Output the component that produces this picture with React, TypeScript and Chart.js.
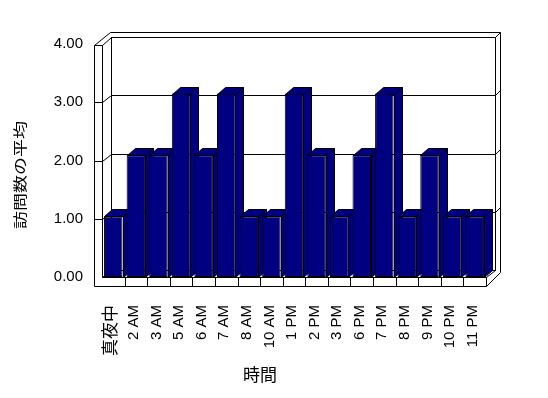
import React, { useEffect, useRef } from "react";
import { Chart, registerables } from "chart.js";

Chart.register(...registerables);

const categories = ["真夜中", "2 AM", "3 AM", "5 AM", "6 AM", "7 AM", "8 AM", "10 AM", "1 PM", "2 PM", "3 PM", "6 PM", "7 PM", "8 PM", "9 PM", "10 PM", "11 PM"];
const averageVisits = [1.04, 2.09, 2.09, 3.15, 2.09, 3.15, 1.04, 1.04, 3.15, 2.09, 1.04, 2.09, 3.15, 1.04, 2.09, 1.04, 1.04];
const yTicks = [0, 1, 2, 3, 4];
const xTitle = "時間";
const yTitle = "訪問数の平均";

const BAR_COLOR = "#000080";
const LATIN = '"Liberation Sans", Arial, "Noto Sans CJK JP", sans-serif';
const CJK = '"Noto Sans CJK JP", sans-serif';

const WALL_DX = 9;
const WALL_DY = -7;
const BAR_DX = 8;
const BAR_DY = -7;

const box3d = {
  id: "box3d",
  beforeDatasetsDraw(chart: any) {
    const ctx = chart.ctx;
    const { left: x0, right: x1 } = chart.chartArea;
    const ys = chart.scales.y;
    const xs = chart.scales.x;
    const yMin = yTicks[0];
    const yMax = yTicks[yTicks.length - 1];
    const yb = Math.round(ys.getPixelForValue(yMin));
    const yt = Math.round(ys.getPixelForValue(yMax));
    const L = Math.round(x0);
    const R = Math.round(x1);
    const P = (v: number) => Math.round(v) + 0.5;
    const line = (a: number, b: number, c: number, d: number) => {
      ctx.beginPath();
      ctx.moveTo(P(a), P(b));
      ctx.lineTo(P(c), P(d));
      ctx.stroke();
    };
    ctx.save();
    ctx.lineWidth = 1;
    ctx.strokeStyle = "#000";
    ctx.fillStyle = "#fff";
    // outer slab outline
    ctx.beginPath();
    ctx.moveTo(P(L - 8), P(yt + 1));
    ctx.lineTo(P(L + 8), P(yt - 12));
    ctx.lineTo(P(R + 14), P(yt - 12));
    ctx.lineTo(P(R + 14), P(yb - 5));
    ctx.lineTo(P(R), P(yb + 9));
    ctx.lineTo(P(L - 8), P(yb + 9));
    ctx.closePath();
    ctx.fill();
    ctx.stroke();
    // back wall
    ctx.strokeRect(P(L + WALL_DX), P(yt + WALL_DY), R - L, yb - yt);
    // left wall inner edge
    line(L, yt + 1, L, yb);
    line(L - 8, yt + 1, L, yt + 1);
    line(L, yt + 1, L + WALL_DX, yt + WALL_DY);
    // top right corner
    line(R + WALL_DX, yt + WALL_DY, R + 14, yt - 12);
    // floor
    line(L, yb, R, yb);
    line(R, yb, R, yb + 9);
    line(R, yb, R + WALL_DX, yb + WALL_DY);
    line(L, yb, L + WALL_DX, yb + WALL_DY);
    // gridlines
    for (const v of yTicks) {
      if (v === yMin || v === yMax) continue;
      const y = Math.round(ys.getPixelForValue(v));
      line(L - 8, y, L, y);
      line(L, y, L + WALL_DX, y + WALL_DY);
      line(L + WALL_DX, y + WALL_DY, R + WALL_DX, y + WALL_DY);
      line(R + WALL_DX, y + WALL_DY, R + 14, y - 12);
    }
    // floor category dividers
    for (let k = 1; k < categories.length; k++) {
      const bx = (xs.getPixelForValue(k - 1) + xs.getPixelForValue(k)) / 2;
      line(bx, yb, bx, yb + 9);
    }
    // bar side and top faces
    const meta = chart.getDatasetMeta(0);
    ctx.fillStyle = BAR_COLOR;
    meta.data.forEach((bar: any) => {
      const { x, y, base, width } = bar.getProps(["x", "y", "base", "width"], true);
      const l = Math.round(x - width / 2);
      const r = Math.round(x + width / 2);
      const t = Math.round(y);
      const b = Math.round(base);
      ctx.beginPath();
      ctx.moveTo(P(r), P(t));
      ctx.lineTo(P(r + BAR_DX), P(t + BAR_DY));
      ctx.lineTo(P(r + BAR_DX), P(b + BAR_DY));
      ctx.lineTo(P(r), P(b));
      ctx.closePath();
      ctx.fill();
      ctx.stroke();
      ctx.beginPath();
      ctx.moveTo(P(l), P(t));
      ctx.lineTo(P(l + BAR_DX), P(t + BAR_DY));
      ctx.lineTo(P(r + BAR_DX), P(t + BAR_DY));
      ctx.lineTo(P(r), P(t));
      ctx.closePath();
      ctx.fill();
      ctx.stroke();
    });
    ctx.restore();
  },
  afterDraw(chart: any) {
    const ctx = chart.ctx;
    ctx.save();
    ctx.fillStyle = "#000";
    ctx.font = `17px ${CJK}`;
    ctx.textAlign = "center";
    ctx.textBaseline = "middle";
    ctx.fillText(xTitle, 260, 375);
    ctx.translate(20, 175);
    ctx.rotate(-Math.PI / 2);
    ctx.scale(1, 0.78);
    ctx.font = `18px ${CJK}`;
    ctx.fillText(yTitle, 0, 0);
    ctx.restore();
  },
};

const isCJK = (s: string) => /[^\x00-\x7F]/.test(s);

export default function App() {
  const ref = useRef<HTMLCanvasElement | null>(null);
  useEffect(() => {
    document.body.style.margin = "0";
    const canvas = ref.current;
    if (!canvas) return;
    const chart = new Chart(canvas, {
      type: "bar",
      data: {
        labels: categories,
        datasets: [
          {
            data: averageVisits,
            backgroundColor: BAR_COLOR,
            borderColor: "#000",
            borderWidth: 1,
            borderSkipped: false,
            barPercentage: 0.82,
            categoryPercentage: 1,
          },
        ],
      },
      options: {
        animation: false,
        responsive: false,
        devicePixelRatio: 1,
        layout: { padding: { top: 44, right: 62, left: 0, bottom: 0 } },
        plugins: { legend: { display: false }, tooltip: { enabled: false } },
        scales: {
          x: {
            grid: { display: false },
            border: { display: false },
            ticks: {
              autoSkip: false,
              maxRotation: 90,
              minRotation: 90,
              padding: 20,
              labelOffset: -2,
              color: "#000",
              font: (c: any) => ({
                family: LATIN,
                size: isCJK(String(categories[c.index] ?? "")) ? 17 : 15,
              }),
            },
            afterFit: (s: any) => {
              s.height = 121;
            },
          },
          y: {
            min: yTicks[0],
            max: yTicks[yTicks.length - 1],
            grid: { display: false },
            border: { display: false },
            afterBuildTicks: (s: any) => {
              s.ticks = yTicks.map((v) => ({ value: v }));
            },
            ticks: {
              padding: 11,
              color: "#000",
              font: { family: LATIN, size: 15 },
              callback: (v: any) => Number(v).toFixed(2),
            },
            afterFit: (s: any) => {
              s.width = 102;
            },
          },
        },
      },
      plugins: [box3d],
    });
    return () => chart.destroy();
  }, []);
  return (
    <div style={{ width: 548, height: 398, background: "#fff" }}>
      <canvas ref={ref} width={548} height={398} />
    </div>
  );
}
